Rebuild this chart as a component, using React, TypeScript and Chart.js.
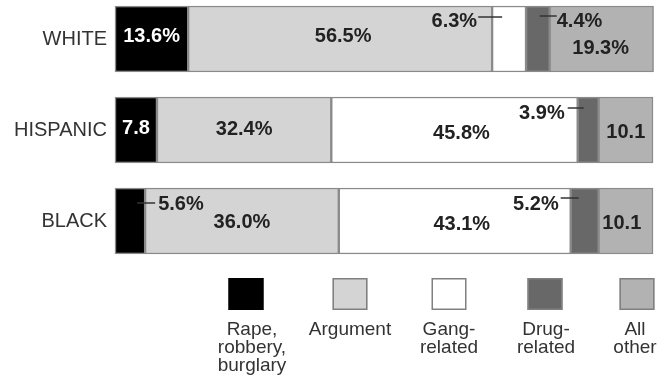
import { useEffect, useRef } from "react";
import { Chart, registerables } from "chart.js";

Chart.register(...registerables);

const FONT = "'Liberation Sans', Arial, Helvetica, sans-serif";

// ---- data ----
const CATEGORIES = ["WHITE", "HISPANIC", "BLACK"];
const SERIES_NAMES = ["Rape, robbery, burglary", "Argument", "Gang-related", "Drug-related", "All other"];
const RAPE = [13.6, 7.8, 5.6];
const ARGUMENT = [56.5, 32.4, 36.0];
const GANG = [6.3, 45.8, 43.1];
const DRUG = [4.4, 3.9, 5.2];
const OTHER = [19.3, 10.1, 10.1];

const RAPE_LABELS = ["13.6%", "7.8", "5.6%"];
const ARGUMENT_LABELS = ["56.5%", "32.4%", "36.0%"];
const GANG_LABELS = ["6.3%", "45.8%", "43.1%"];
const DRUG_LABELS = ["4.4%", "3.9%", "5.2%"];
const OTHER_LABELS = ["19.3%", "10.1", "10.1"];

const LEGEND_LINES = [["Rape,", "robbery,", "burglary"], ["Argument"], ["Gang-", "related"], ["Drug-", "related"], ["All", "other"]];

// ---- styles / layout ----
const COLORS = ["#000000", "#d4d4d4", "#ffffff", "#686868", "#b2b2b2"];
const BORDER = "#8a8a8a";
const TEXT = "#222222";

type Lay = {
  dx?: number;
  dy?: number;
  color?: string;
  callout?: { side: "left" | "right"; inset: number; len: number; lineDy: number; textDy: number; gap: number };
};

const LABEL_LAYOUT: Lay[][] = [
  [
    { dx: 0, dy: -3, color: "#ffffff" },
    { dx: 0, dy: -2, color: "#ffffff" },
    { callout: { side: "right", inset: 8, len: 18, lineDy: 15, textDy: 16, gap: 3 } },
  ],
  [
    { dx: 3, dy: -3 },
    { dx: 0, dy: -1 },
    { dx: 0, dy: 1 },
  ],
  [
    { callout: { side: "left", inset: 10, len: 24, lineDy: 11, textDy: 15, gap: 1 } },
    { dx: 7, dy: 3 },
    { dx: 7, dy: 3 },
  ],
  [
    { callout: { side: "right", inset: 10, len: 17, lineDy: 10, textDy: 15, gap: 0 } },
    { callout: { side: "left", inset: 6, len: 16, lineDy: 11, textDy: 16, gap: 3 } },
    { callout: { side: "left", inset: 8, len: 18, lineDy: 10, textDy: 16, gap: 2 } },
  ],
  [
    { dx: -1, dy: 9 },
    { dx: 0, dy: 2 },
    { dx: -4, dy: 2 },
  ],
];

const LEGEND_CENTERS = [246, 350, 449, 545, 637];
const LEGEND_TEXT_CENTERS = [252, 350, 449, 546, 635];
const LEGEND_BOX_TOP = 278;
const LEGEND_BOX_W = 35;
const LEGEND_BOX_H = 32;
const LEGEND_BASELINE = 335;
const LEGEND_LINE_H = 18;

const SERIES = [RAPE, ARGUMENT, GANG, DRUG, OTHER];
const SEGMENT_LABELS = [RAPE_LABELS, ARGUMENT_LABELS, GANG_LABELS, DRUG_LABELS, OTHER_LABELS];

const segLabelsPlugin = {
  id: "segLabels",
  afterDatasetsDraw(chart: any) {
    const ctx = chart.ctx as CanvasRenderingContext2D;
    ctx.save();
    ctx.font = `bold 20px ${FONT}`;
    ctx.textBaseline = "middle";
    chart.data.datasets.forEach((_ds: any, i: number) => {
      const meta = chart.getDatasetMeta(i);
      meta.data.forEach((el: any, j: number) => {
        const text = SEGMENT_LABELS[i][j];
        const lay = LABEL_LAYOUT[i][j];
        const start = Math.min(el.x, el.base);
        const end = Math.max(el.x, el.base);
        const top = el.y - el.height / 2;
        ctx.fillStyle = lay.color || TEXT;
        if (lay.callout) {
          const c = lay.callout;
          let x0: number, x1: number, tx: number;
          if (c.side === "left") {
            x0 = start + c.inset;
            x1 = x0 - c.len;
            tx = x1 - c.gap;
            ctx.textAlign = "right";
          } else {
            x0 = end - c.inset;
            x1 = x0 + c.len;
            tx = x1 + c.gap;
            ctx.textAlign = "left";
          }
          ctx.strokeStyle = "#333333";
          ctx.lineWidth = 1.5;
          ctx.beginPath();
          ctx.moveTo(x0, top + c.lineDy);
          ctx.lineTo(x1, top + c.lineDy);
          ctx.stroke();
          ctx.fillText(text, tx, top + c.textDy);
        } else {
          ctx.textAlign = "center";
          ctx.fillText(text, (start + end) / 2 + (lay.dx || 0), el.y + (lay.dy || 0));
        }
      });
    });
    ctx.restore();
  },
};

const legendPlugin = {
  id: "customLegend",
  afterDraw(chart: any) {
    const ctx = chart.ctx as CanvasRenderingContext2D;
    ctx.save();
    chart.data.datasets.forEach((ds: any, i: number) => {
      const cx = LEGEND_CENTERS[i];
      const x = cx - LEGEND_BOX_W / 2;
      ctx.fillStyle = ds.backgroundColor;
      ctx.fillRect(x, LEGEND_BOX_TOP, LEGEND_BOX_W, LEGEND_BOX_H);
      ctx.strokeStyle = i === 0 ? "#000000" : "#808080";
      ctx.lineWidth = 1.5;
      ctx.strokeRect(x + 0.75, LEGEND_BOX_TOP + 0.75, LEGEND_BOX_W - 1.5, LEGEND_BOX_H - 1.5);
      ctx.fillStyle = "#333333";
      ctx.font = `19px ${FONT}`;
      ctx.textAlign = "center";
      ctx.textBaseline = "alphabetic";
      LEGEND_LINES[i].forEach((line, k) => {
        ctx.fillText(line, LEGEND_TEXT_CENTERS[i], LEGEND_BASELINE + k * LEGEND_LINE_H);
      });
    });
    ctx.restore();
  },
};

export default function App() {
  const ref = useRef<HTMLCanvasElement>(null);

  useEffect(() => {
    if (!ref.current) return;
    const chart = new Chart(ref.current, {
      type: "bar",
      data: {
        labels: CATEGORIES,
        datasets: SERIES.map((values, i) => ({
          label: SERIES_NAMES[i],
          data: values,
          backgroundColor: COLORS[i],
          borderColor: BORDER,
          borderWidth: 1.5,
          borderSkipped: false,
          barThickness: 66,
          clip: false as any,
        })),
      },
      options: {
        indexAxis: "y",
        responsive: false,
        animation: false,
        layout: { padding: { top: 39, bottom: 165, left: 0, right: 16 } },
        plugins: {
          legend: { display: false },
          tooltip: { enabled: false },
        },
        scales: {
          x: { stacked: true, min: 0, max: 100, display: false },
          y: {
            stacked: true,
            offset: false,
            grid: { display: false, drawTicks: false },
            border: { display: false },
            ticks: {
              color: "#333333",
              padding: 8,
              font: { family: FONT, size: 20 },
            },
            afterFit: (scale: any) => {
              scale.width = 115;
            },
          },
        },
      },
      plugins: [segLabelsPlugin, legendPlugin],
    });
    return () => chart.destroy();
  }, []);

  return (
    <div style={{ position: "absolute", left: 0, top: 0, width: 669, height: 386, background: "#ffffff" }}>
      <canvas ref={ref} width={669} height={386} style={{ display: "block" }} />
    </div>
  );
}
